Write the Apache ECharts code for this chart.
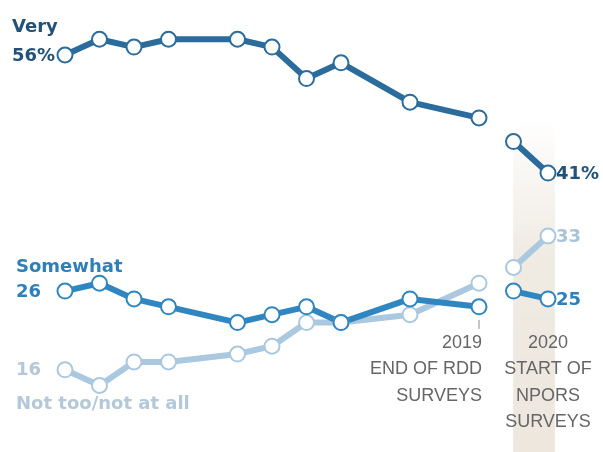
<!DOCTYPE html>
<html>
<head>
<meta charset="utf-8">
<script src="https://cdn.jsdelivr.net/npm/echarts@6/dist/echarts.min.js"></script>
<style>
  html, body { margin: 0; padding: 0; background: #fff; }
  #main { width: 603px; height: 452px; }
</style>
</head>
<body>
<div id="main"></div>
<script>
// survey years (RDD phone surveys, then NPORS)
var rddYears = [2007, 2008, 2009, 2010, 2012, 2013, 2014, 2015, 2017, 2019];
var nporsYears = [2020, 2021];

var veryRdd = [56, 58, 57, 58, 58, 57, 53, 55, 50, 48];
var veryNpors = [45, 41];
var somewhatRdd = [26, 27, 25, 24, 22, 23, 24, 22, 25, 24];
var somewhatNpors = [26, 25];
var notTooRdd = [16, 14, 17, 17, 18, 19, 22, 22, 23, 27];
var notTooNpors = [29, 33];

var labelRdd = ['2019', 'END OF RDD', 'SURVEYS'];
var labelNpors = ['2020', 'START OF', 'NPORS', 'SURVEYS'];

var BOLD = '"DejaVu Sans", sans-serif';
var AXIS = '"Liberation Sans", Arial, sans-serif';
var C_VERY = '#2b6c9c', C_SOME = '#2f86c0', C_NOT = '#aac8df';

function pairs(xs, ys) {
    return xs.map(function (x, i) { return [x, ys[i]]; });
}

function lineSeries(xs, ys, color) {
    return {
        type: 'line',
        data: pairs(xs, ys),
        symbol: 'circle',
        symbolSize: 15,
        lineStyle: { color: color, width: 6 },
        itemStyle: { color: '#fff', borderColor: color, borderWidth: 2 },
        z: 3
    };
}

var chart = echarts.init(document.getElementById('main'));

var option = {
    animation: false,
    backgroundColor: '#fff',
    grid: { left: 65, right: 55, top: 23.5, bottom: 35 },
    xAxis: { type: 'value', min: 2007, max: 2021, show: false },
    yAxis: { type: 'value', min: 10, max: 60, show: false },
    series: [
        lineSeries(rddYears, notTooRdd, C_NOT),
        lineSeries(nporsYears, notTooNpors, C_NOT),
        lineSeries(rddYears, somewhatRdd, C_SOME),
        lineSeries(nporsYears, somewhatNpors, C_SOME),
        lineSeries(rddYears, veryRdd, C_VERY),
        lineSeries(nporsYears, veryNpors, C_VERY)
    ]
};
chart.setOption(option);

// annotations placed through the chart's own scales
function px(x, y) { return chart.convertToPixel({ gridIndex: 0 }, [x, y]); }
function txt(x, y, s, color, size, font, weight, align) {
    return {
        type: 'text', x: x, y: y, z: 10,
        style: {
            text: s, fill: color, font: (weight || 'normal') + ' ' + size + 'px ' + font,
            align: align || 'left', verticalAlign: 'middle'
        }
    };
}
function bold(x, y, s, color) { return txt(x, y, s, color, 18, BOLD, 'bold'); }

var first = rddYears[0], lastN = nporsYears[nporsYears.length - 1], lastR = rddYears[rddYears.length - 1];
var pV0 = px(first, veryRdd[0]), pV1 = px(lastN, veryNpors[1]);
var pS0 = px(first, somewhatRdd[0]), pS1 = px(lastN, somewhatNpors[1]);
var pN0 = px(first, notTooRdd[0]), pN1 = px(lastN, notTooNpors[1]);
var pTick = px(lastR, somewhatRdd[somewhatRdd.length - 1]);
var bandL = px(2019.99, 0)[0], bandR = px(2021.2, 0)[0];

var graphics = [];
graphics.push({
    type: 'rect', z: 0,
    shape: { x: bandL, y: 120, width: bandR - bandL, height: 452 - 120 },
    style: {
        fill: new echarts.graphic.LinearGradient(0, 0, 0, 1, [
            { offset: 0, color: 'rgba(237,231,222,0)' },
            { offset: 0.4, color: 'rgba(237,231,222,0.85)' },
            { offset: 1, color: 'rgba(237,231,222,1)' }
        ])
    }
});
graphics.push(bold(12, pV0[1] - 28, 'Very', '#235279'));
graphics.push(bold(12, pV0[1] + 1, veryRdd[0] + '%', '#235279'));
graphics.push(bold(pV1[0] + 8, pV1[1] + 1, veryNpors[1] + '%', '#235279'));
graphics.push(bold(16, pS0[1] - 24, 'Somewhat', '#2f80b9'));
graphics.push(bold(16, pS0[1] + 1, String(somewhatRdd[0]), '#2f80b9'));
graphics.push(bold(pS1[0] + 8, pS1[1] + 1, String(somewhatNpors[1]), '#2f80b9'));
graphics.push(bold(16, pN0[1] + 1, String(notTooRdd[0]), '#b3c8d9'));
graphics.push(bold(16, pN0[1] + 35, 'Not too/not at all', '#b3c8d9'));
graphics.push(bold(pN1[0] + 8, pN1[1] + 1, String(notTooNpors[1]), '#a9c3d7'));
graphics.push({
    type: 'line', z: 5,
    shape: { x1: pTick[0], y1: pTick[1] + 13, x2: pTick[0], y2: pTick[1] + 22 },
    style: { stroke: '#8a8a8a', lineWidth: 1 }
});
labelRdd.forEach(function (s, i) {
    graphics.push(txt(pTick[0] + 3, 343 + i * 26.5, s, '#666', 18, AXIS, 'normal', 'right'));
});
labelNpors.forEach(function (s, i) {
    graphics.push(txt(pV1[0], 343 + i * 26.5, s, '#666', 18, AXIS, 'normal', 'center'));
});
chart.setOption({ graphic: graphics });

window.addEventListener('resize', function () {
    chart.resize();
});
</script>
</body>
</html>
